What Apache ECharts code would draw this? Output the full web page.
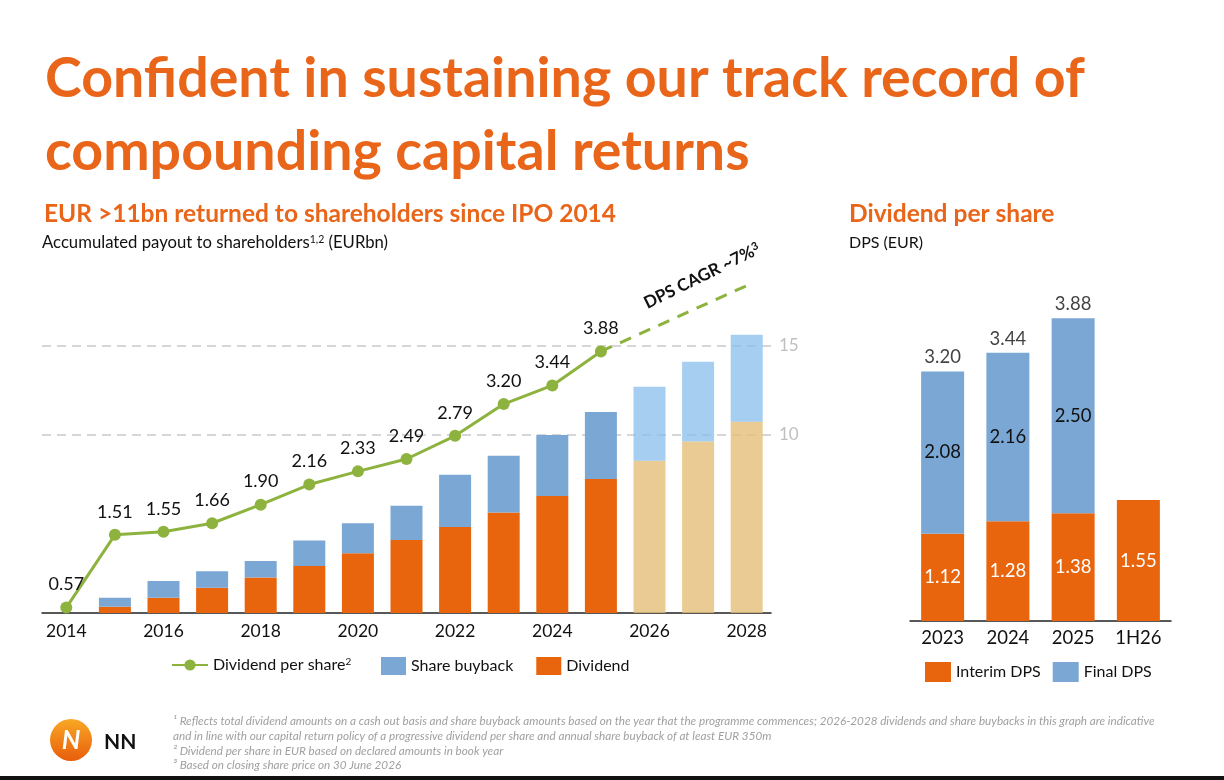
<!DOCTYPE html>
<html><head><meta charset="utf-8">
<script src="https://cdn.jsdelivr.net/npm/echarts@6/dist/echarts.min.js"></script>
<style>html,body{margin:0;padding:0;background:#fff}#c{width:1224px;height:780px}</style>
</head><body><div id="c"></div>
<script>
// ---------- data ----------
const years = ['2014','2015','2016','2017','2018','2019','2020','2021','2022','2023','2024','2025','2026','2027','2028'];
const firstForecastYear = '2026';
const dividend = [0, 0.35, 0.86, 1.42, 2.00, 2.64, 3.35, 4.10, 4.83, 5.65, 6.57, 7.53, 8.56, 9.64, 10.75];
const buyback  = [0, 0.51, 0.94, 0.92, 0.92, 1.44, 1.69, 1.93, 2.94, 3.19, 3.43, 3.76, 4.15, 4.48, 4.88];
const dps      = [0.57, 1.51, 1.55, 1.66, 1.90, 2.16, 2.33, 2.49, 2.79, 3.20, 3.44, 3.88, null, null, null];
const dpsOutlook = [null, null, null, null, null, null, null, null, null, null, null, 3.88, null, null, 4.73];
const payoutTickLabels = [10, 15];

const dpsCats   = ['2023','2024','2025','1H26'];
const interimDps = [1.12, 1.28, 1.38, 1.55];
const finalDps   = [2.08, 2.16, 2.50, null];
const totalDps   = [3.20, 3.44, 3.88, null];

// ---------- style ----------
const FONT = 'Lato, "Open Sans", "Noto Sans", sans-serif';
const ORANGE = '#E8650E', BLUE = '#7BA7D5', GREEN = '#8DB33E';
const LIGHTBLUE = 'rgba(135,190,235,0.75)', TAN = 'rgba(229,190,120,0.8)';
const TITLE_ORANGE = '#E8651A';
const fIdx = years.indexOf(firstForecastYear);

const divData = dividend.map((v, i) => i >= fIdx ? {value: v, itemStyle: {color: TAN}} : v);
const bbData  = buyback.map((v, i) => i >= fIdx ? {value: v, itemStyle: {color: LIGHTBLUE}} : v);

function txt(x, y, text, o) {
  o = o || {};
  return {
    type: 'text', x: x, y: y, rotation: o.rotation || 0, z: 100,
    style: {
      text: text, fill: o.color || '#111', fontFamily: FONT,
      fontSize: o.size || 16, fontWeight: o.weight || 'normal', fontStyle: o.style || 'normal',
      align: o.align || 'left', verticalAlign: o.valign || 'middle', rich: o.rich
    }
  };
}
const supRich = s => ({ sup: { fontSize: s, verticalAlign: 'top', fontFamily: FONT } });

const footnotes = [
  '¹ Reflects total dividend amounts on a cash out basis and share buyback amounts based on the year that the programme commences; 2026-2028 dividends and share buybacks in this graph are indicative',
  'and in line with our capital return policy of a progressive dividend per share and annual share buyback of at least EUR 350m',
  '² Dividend per share in EUR based on declared amounts in book year',
  '³ Based on closing share price on 30 June 2026'
];
const footY = [721, 736, 751, 765];

const graphics = [
  txt(45, 79, 'Confident in sustaining our track record of', {size: 55.5, weight: 'bold', color: TITLE_ORANGE}),
  txt(45, 152, 'compounding capital returns', {size: 55.5, weight: 'bold', color: TITLE_ORANGE}),
  txt(44, 214, 'EUR >11bn returned to shareholders since IPO 2014', {size: 24.5, weight: 'bold', color: TITLE_ORANGE}),
  txt(849, 214, 'Dividend per share', {size: 24.5, weight: 'bold', color: TITLE_ORANGE}),
  txt(42, 243, 'Accumulated payout to shareholders{sup|1,2} (EURbn)', {size: 16.7, rich: supRich(10.5)}),
  txt(849, 243, 'DPS (EUR)', {size: 16}),
  txt(702, 276, 'DPS CAGR ~7%{sup|3}', {size: 17, weight: 'bold', align: 'center', rotation: 0.46,
      rich: {sup: {fontSize: 11, fontWeight: 'bold', verticalAlign: 'top', fontFamily: FONT}}}),
  // logo
  {type: 'circle', shape: {cx: 71, cy: 740, r: 21}, z: 100,
   style: {fill: new echarts.graphic.LinearGradient(0, 0, 0, 1, [{offset: 0, color: '#F9A825'}, {offset: 1, color: '#E85D0C'}])}},
  txt(71, 741, 'N', {size: 26, weight: 'bold', style: 'italic', color: '#fff', align: 'center'}),
  txt(104, 742, 'NN', {size: 21, weight: 'bold', color: '#111'}),
  {type: 'rect', shape: {x: 0, y: 776, width: 1224, height: 4}, style: {fill: '#111'}, z: 100}
];
footnotes.forEach((t, i) => graphics.push(txt(173, footY[i], t, {size: 11.7, style: 'italic', color: '#A0A0A0'})));

const option = {
  backgroundColor: '#fff',
  animation: false,
  textStyle: {fontFamily: FONT},
  graphic: graphics,
  legend: [
    {data: ['Dividend per share'], left: 166, top: 652, itemWidth: 36, itemHeight: 14,
     textStyle: {fontSize: 16, color: '#111', fontFamily: FONT, rich: {sup: {fontSize: 10, verticalAlign: 'top', fontFamily: FONT}}},
     formatter: n => n + '{sup|2}'},
    {data: ['Share buyback', 'Dividend'], left: 376, top: 652, itemWidth: 25, itemHeight: 18, itemGap: 23,
     icon: 'rect', textStyle: {fontSize: 16, color: '#111', fontFamily: FONT}},
    {data: ['Interim DPS', 'Final DPS'], left: 920, top: 657, itemWidth: 26, itemHeight: 20, itemGap: 12,
     icon: 'rect', textStyle: {fontSize: 16, color: '#111', fontFamily: FONT}}
  ],
  grid: [
    {left: 42, top: 257, width: 729, height: 356},
    {left: 910, top: 309, width: 261, height: 312}
  ],
  xAxis: [
    {type: 'category', gridIndex: 0, data: years, boundaryGap: true,
     axisLine: {lineStyle: {color: '#222', width: 1.5}}, axisTick: {show: false},
     axisLabel: {interval: 1, fontSize: 17.5, color: '#111', margin: 9, fontFamily: FONT}},
    {type: 'category', gridIndex: 1, data: dpsCats,
     axisLine: {lineStyle: {color: '#222', width: 1.5}}, axisTick: {show: false},
     axisLabel: {fontSize: 18.5, color: '#111', margin: 8, fontFamily: FONT}}
  ],
  yAxis: [
    {type: 'value', gridIndex: 0, position: 'right', min: 0, max: 20, interval: 5,
     axisLine: {show: false}, axisTick: {show: false},
     axisLabel: {fontSize: 17, color: '#BFBFBF', margin: 8, fontFamily: FONT,
       formatter: v => payoutTickLabels.includes(v) ? String(v) : ''},
     splitLine: {show: true, showMinLine: true, showMaxLine: true,
       lineStyle: {type: [9, 6], width: 1.5,
         color: ['rgba(0,0,0,0)', 'rgba(0,0,0,0)', '#C9C9C9', '#C9C9C9', 'rgba(0,0,0,0)']}}},
    {type: 'value', gridIndex: 0, min: 0.5, max: 5.1, show: false, splitLine: {show: false}},
    {type: 'value', gridIndex: 1, min: 0, max: 4, show: false, splitLine: {show: false}}
  ],
  series: [
    {name: 'Dividend', type: 'bar', xAxisIndex: 0, yAxisIndex: 0, stack: 'payout', barWidth: 32,
     itemStyle: {color: ORANGE}, data: divData, z: 2},
    {name: 'Share buyback', type: 'bar', xAxisIndex: 0, yAxisIndex: 0, stack: 'payout', barWidth: 32,
     itemStyle: {color: BLUE}, data: bbData, z: 2},
    {name: 'DPS outlook', type: 'line', xAxisIndex: 0, yAxisIndex: 1, data: dpsOutlook, connectNulls: true,
     symbol: 'none', lineStyle: {color: GREEN, width: 3, type: [12, 9]}, z: 4},
    {name: 'Dividend per share', type: 'line', xAxisIndex: 0, yAxisIndex: 1, data: dps,
     symbol: 'circle', symbolSize: 12, itemStyle: {color: GREEN}, lineStyle: {color: GREEN, width: 3}, z: 5,
     label: {show: true, position: 'top', distance: 8, fontSize: 18, color: '#111', fontFamily: FONT,
       formatter: p => p.value == null ? '' : p.value.toFixed(2)}},
    {name: 'Interim DPS', type: 'bar', xAxisIndex: 1, yAxisIndex: 2, stack: 'dps', barWidth: 43,
     itemStyle: {color: ORANGE}, data: interimDps,
     label: {show: true, position: 'inside', fontSize: 18.5, color: '#fff', fontFamily: FONT,
       formatter: p => p.value.toFixed(2)}},
    {name: 'Final DPS', type: 'bar', xAxisIndex: 1, yAxisIndex: 2, stack: 'dps', barWidth: 43,
     itemStyle: {color: BLUE}, data: finalDps,
     label: {show: true, position: 'inside', fontSize: 18.5, color: '#111', fontFamily: FONT,
       formatter: p => p.value == null ? '' : p.value.toFixed(2)}},
    {name: 'Total DPS', type: 'scatter', xAxisIndex: 1, yAxisIndex: 2, data: totalDps, symbolSize: 1,
     itemStyle: {color: 'rgba(0,0,0,0)'},
     label: {show: true, position: 'top', distance: 4, fontSize: 18.5, color: '#111', fontFamily: FONT,
       formatter: p => p.value == null ? '' : p.value.toFixed(2)}}
  ]
};
const chart = echarts.init(document.getElementById('c'), null, {renderer: 'canvas'});
chart.setOption(option);
</script></body></html>
